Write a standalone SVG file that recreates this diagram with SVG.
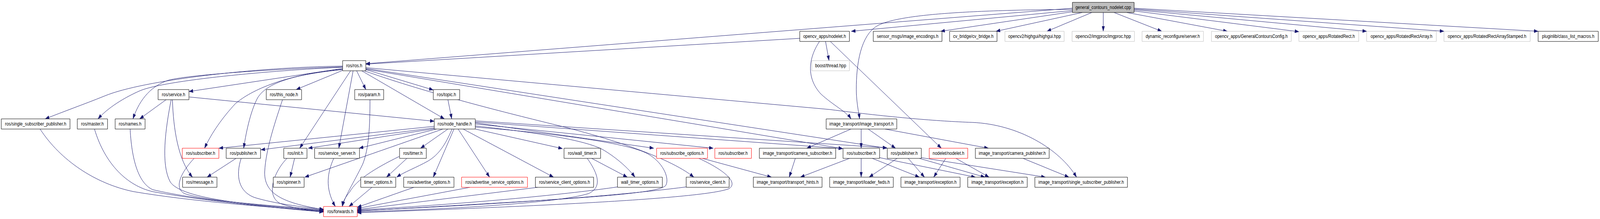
<svg xmlns="http://www.w3.org/2000/svg" width="5029" height="560" viewBox="0 0 5029 560">
<style>
.nd rect{fill:#fff;stroke:#000;stroke-width:1;vector-effect:non-scaling-stroke}
.gr rect{stroke:#bfbfbf}
.rd rect{stroke:#ff0000}
.root rect{fill:#bfbfbf}
.nd text{font-family:"Liberation Sans",Arial,Helvetica,sans-serif;font-size:13px;text-anchor:middle;fill:#000}
#edges path{fill:none;stroke:#191970;stroke-width:1;vector-effect:non-scaling-stroke;marker-end:url(#a)}
</style>
<defs>
<marker id="a" markerWidth="14" markerHeight="9" refX="13" refY="4.5" orient="auto" markerUnits="userSpaceOnUse"><path d="M0,0L13,4.5L0,9z" fill="#191970" stroke="#191970" stroke-width="0.5"/></marker>
</defs>
<rect width="5029" height="560" fill="#fff"/>
<g id="diagram" transform="scale(0.8144,1)">
<g id="edges">
<path d="M3371,27L2676,80"/>
<path d="M3371,21L1150,163"/>
<path d="M2514,98L1150,164"/>
<path d="M3371,24C3000,26 2800,40 2750,70C2700,100 2690,180 2692,240C2694,270 2700,290 2702,304"/>
<path d="M3371,30L2957,80"/>
<path d="M3402,32L3131,80"/>
<path d="M3432,32L3291,80"/>
<path d="M3468,32L3468,80"/>
<path d="M3502,32L3652,80"/>
<path d="M3542,32L3858,80"/>
<path d="M3565,28L4083,81"/>
<path d="M3565,25L4296,80"/>
<path d="M3565,23L4539,80"/>
<path d="M3565,21L4835,80"/>
<path d="M2595,106L2606,155"/>
<path d="M2576,106C2540,150 2535,200 2580,240C2620,270 2660,285 2675,304"/>
<path d="M2610,106L2959,379"/>
<path d="M1077,169C800,172 450,205 330,245C260,268 200,285 142,304"/>
<path d="M1077,172C850,180 520,205 440,232C390,250 340,275 308,304"/>
<path d="M1077,171C900,175 600,190 530,205C480,218 440,250 418,304"/>
<path d="M1077,175L594,234"/>
<path d="M1077,177C900,190 790,230 740,265C700,300 665,340 643,379"/>
<path d="M1077,178C930,190 840,210 810,250C790,280 775,330 766,379"/>
<path d="M1077,180L931,229"/>
<path d="M1102,181L942,379"/>
<path d="M1110,181L1065,379"/>
<path d="M1121,181L1150,229"/>
<path d="M1137,181L1397,304"/>
<path d="M1150,178L1362,230"/>
<path d="M1150,173L2608,280C2800,300 2950,310 3056,313C3200,318 3330,380 3384,453"/>
<path d="M1150,175L2788,379"/>
<path d="M1150,177L2649,380"/>
<path d="M1145,181C1350,240 1600,290 1750,320C1900,350 2100,400 2181,453"/>
<path d="M522,255L439,304"/>
<path d="M538,255C520,330 505,420 535,465C570,510 800,525 1017,538"/>
<path d="M542,255C545,330 560,410 605,453"/>
<path d="M595,248L1365,310"/>
<path d="M888,255C870,300 835,380 832,440C830,500 900,520 1017,536"/>
<path d="M1163,255C1163,320 1160,380 1140,420C1110,470 1085,500 1076,528"/>
<path d="M1408,255L1420,304"/>
<path d="M126,330C190,410 300,470 420,490C600,515 850,530 1017,540"/>
<path d="M297,330C330,420 400,475 480,490C650,515 880,532 1017,541"/>
<path d="M409,330C415,420 440,470 480,485C620,512 880,533 1017,542"/>
<path d="M610,405C570,440 545,480 580,495C650,515 850,525 1017,537"/>
<path d="M742,405L651,453"/>
<path d="M758,405C740,450 750,490 800,505C860,520 950,530 1017,535"/>
<path d="M1365,323L688,379"/>
<path d="M1365,327L820,383"/>
<path d="M1367,329L969,379"/>
<path d="M1372,330L1129,379"/>
<path d="M1392,330L958,453"/>
<path d="M1408,330L1322,379"/>
<path d="M1421,330C1400,370 1380,395 1345,412C1310,428 1270,440 1247,453"/>
<path d="M1427,330L1362,453"/>
<path d="M1440,330L1539,453"/>
<path d="M1456,330L1740,453"/>
<path d="M1494,330L1768,380"/>
<path d="M1494,314L2055,379"/>
<path d="M1494,317L2242,379"/>
<path d="M1494,312L2649,380"/>
<path d="M1494,309L2788,378"/>
<path d="M1494,322C1700,340 1850,360 1900,385C1940,405 1975,430 1996,453"/>
<path d="M1494,325C1800,345 1990,370 2040,395C2090,420 2105,460 2092,475C2060,500 1700,512 1123,540"/>
<path d="M926,405L912,453"/>
<path d="M902,405C860,440 835,500 880,520C930,535 980,538 1017,540"/>
<path d="M1049,405C1030,440 1020,480 1054,528"/>
<path d="M1255,400C1180,430 1120,460 1100,490C1085,505 1078,515 1076,528"/>
<path d="M1279,405L1215,453"/>
<path d="M1169,479L1097,528"/>
<path d="M1301,479L1123,530"/>
<path d="M1477,479L1123,533"/>
<path d="M1690,479L1123,536"/>
<path d="M1860,405L1972,453"/>
<path d="M1846,405C1885,450 1890,480 1850,495C1750,520 1400,535 1123,542"/>
<path d="M1941,478C1800,495 1500,520 1123,537"/>
<path d="M2157,478C1900,505 1500,525 1123,539"/>
<path d="M2197,405C2290,440 2320,470 2290,483C2200,510 1600,530 1123,544"/>
<path d="M2208,405L2425,453"/>
<path d="M2500,405L2481,453"/>
<path d="M2675,330L2536,379"/>
<path d="M2707,330L2707,379"/>
<path d="M2729,330L2815,379"/>
<path d="M2782,330L3107,379"/>
<path d="M2670,405L2516,453"/>
<path d="M2707,405L2707,453"/>
<path d="M2742,405L2890,453"/>
<path d="M2764,403L3066,453"/>
<path d="M2820,405L2732,453"/>
<path d="M2855,405L2906,453"/>
<path d="M2890,405L3096,453"/>
<path d="M2895,403L3286,453"/>
<path d="M2973,405L2935,453"/>
<path d="M3005,405L3109,453"/>
<path d="M3216,405L3360,453"/>
</g>
<g id="n0" class="nd root"><rect x="3371" y="6" width="194" height="26"/><text x="3468" y="23">general_contours_nodelet.cpp</text></g>
<g id="n1" class="nd"><rect x="2514" y="80" width="156" height="26"/><text x="2592" y="97">opencv_apps/nodelet.h</text></g>
<g id="n2" class="nd"><rect x="2745" y="80" width="216" height="26"/><text x="2853" y="97">sensor_msgs/image_encodings.h</text></g>
<g id="n3" class="nd"><rect x="2985" y="80" width="149" height="26"/><text x="3059.5" y="97">cv_bridge/cv_bridge.h</text></g>
<g id="n4" class="nd gr"><rect x="3159" y="80" width="186" height="26"/><text x="3252" y="97">opencv2/highgui/highgui.hpp</text></g>
<g id="n5" class="nd gr"><rect x="3370" y="80" width="196" height="26"/><text x="3468" y="97">opencv2/imgproc/imgproc.hpp</text></g>
<g id="n6" class="nd gr"><rect x="3590" y="80" width="193" height="26"/><text x="3686.5" y="97">dynamic_reconfigure/server.h</text></g>
<g id="n7" class="nd gr"><rect x="3808" y="80" width="251" height="26"/><text x="3933.5" y="97">opencv_apps/GeneralContoursConfig.h</text></g>
<g id="n8" class="nd gr"><rect x="4083" y="80" width="188" height="26"/><text x="4177" y="97">opencv_apps/RotatedRect.h</text></g>
<g id="n9" class="nd gr"><rect x="4296" y="80" width="219" height="26"/><text x="4405.5" y="97">opencv_apps/RotatedRectArray.h</text></g>
<g id="n10" class="nd gr"><rect x="4539" y="80" width="271" height="26"/><text x="4674.5" y="97">opencv_apps/RotatedRectArrayStamped.h</text></g>
<g id="n11" class="nd"><rect x="4835" y="80" width="189" height="26"/><text x="4929.5" y="97">pluginlib/class_list_macros.h</text></g>
<g id="n12" class="nd"><rect x="1077" y="155" width="73" height="26"/><text x="1113.5" y="172">ros/ros.h</text></g>
<g id="n13" class="nd gr"><rect x="2552" y="155" width="118" height="26"/><text x="2611" y="172">boost/thread.hpp</text></g>
<g id="n14" class="nd"><rect x="497" y="229" width="97" height="26"/><text x="545.5" y="246">ros/service.h</text></g>
<g id="n15" class="nd"><rect x="837" y="229" width="111" height="26"/><text x="892.5" y="246">ros/this_node.h</text></g>
<g id="n16" class="nd"><rect x="1115" y="229" width="91" height="26"/><text x="1160.5" y="246">ros/param.h</text></g>
<g id="n17" class="nd"><rect x="1362" y="229" width="83" height="26"/><text x="1403.5" y="246">ros/topic.h</text></g>
<g id="n18" class="nd"><rect x="4" y="304" width="216" height="26"/><text x="112" y="321">ros/single_subscriber_publisher.h</text></g>
<g id="n19" class="nd"><rect x="243" y="304" width="95" height="26"/><text x="290.5" y="321">ros/master.h</text></g>
<g id="n20" class="nd"><rect x="362" y="304" width="94" height="26"/><text x="409" y="321">ros/names.h</text></g>
<g id="n21" class="nd"><rect x="1365" y="304" width="129" height="26"/><text x="1429.5" y="321">ros/node_handle.h</text></g>
<g id="n22" class="nd"><rect x="2597" y="304" width="222" height="26"/><text x="2708" y="321">image_transport/image_transport.h</text></g>
<g id="n23" class="nd rd"><rect x="573" y="379" width="115" height="26"/><text x="630.5" y="396">ros/subscriber.h</text></g>
<g id="n24" class="nd"><rect x="711" y="379" width="108" height="26"/><text x="765" y="396">ros/publisher.h</text></g>
<g id="n25" class="nd"><rect x="892" y="379" width="73" height="26"/><text x="928.5" y="396">ros/init.h</text></g>
<g id="n26" class="nd"><rect x="989" y="379" width="141" height="26"/><text x="1059.5" y="396">ros/service_server.h</text></g>
<g id="n27" class="nd"><rect x="1256" y="379" width="84" height="26"/><text x="1298" y="396">ros/timer.h</text></g>
<g id="n28" class="nd"><rect x="1773" y="379" width="115" height="26"/><text x="1830.5" y="396">ros/wall_timer.h</text></g>
<g id="n29" class="nd rd"><rect x="2064" y="379" width="160" height="26"/><text x="2144" y="396">ros/subscribe_options.h</text></g>
<g id="n30" class="nd rd"><rect x="2247" y="379" width="115" height="26"/><text x="2304.5" y="396">ros/subscriber.h</text></g>
<g id="n31" class="nd"><rect x="2387" y="379" width="240" height="26"/><text x="2507" y="396">image_transport/camera_subscriber.h</text></g>
<g id="n32" class="nd"><rect x="2650" y="379" width="115" height="26"/><text x="2707.5" y="396">ros/subscriber.h</text></g>
<g id="n33" class="nd"><rect x="2789" y="379" width="107" height="26"/><text x="2842.5" y="396">ros/publisher.h</text></g>
<g id="n34" class="nd rd"><rect x="2921" y="379" width="121" height="26"/><text x="2981.5" y="396">nodelet/nodelet.h</text></g>
<g id="n35" class="nd"><rect x="3066" y="379" width="232" height="26"/><text x="3182" y="396">image_transport/camera_publisher.h</text></g>
<g id="n36" class="nd"><rect x="574" y="453" width="108" height="26"/><text x="628" y="470">ros/message.h</text></g>
<g id="n37" class="nd"><rect x="859" y="453" width="97" height="26"/><text x="907.5" y="470">ros/spinner.h</text></g>
<g id="n38" class="nd"><rect x="1134" y="453" width="110" height="26"/><text x="1189" y="470">timer_options.h</text></g>
<g id="n39" class="nd"><rect x="1269" y="453" width="158" height="26"/><text x="1348" y="470">ros/advertise_options.h</text></g>
<g id="n40" class="nd rd"><rect x="1451" y="453" width="207" height="26"/><text x="1554.5" y="470">ros/advertise_service_options.h</text></g>
<g id="n41" class="nd"><rect x="1683" y="453" width="183" height="26"/><text x="1774.5" y="470">ros/service_client_options.h</text></g>
<g id="n42" class="nd"><rect x="1941" y="453" width="141" height="26"/><text x="2011.5" y="470">wall_timer_options.h</text></g>
<g id="n43" class="nd"><rect x="2157" y="453" width="135" height="26"/><text x="2224.5" y="470">ros/service_client.h</text></g>
<g id="n44" class="nd"><rect x="2368" y="453" width="216" height="26"/><text x="2476" y="470">image_transport/transport_hints.h</text></g>
<g id="n45" class="nd"><rect x="2608" y="453" width="200" height="26"/><text x="2708" y="470">image_transport/loader_fwds.h</text></g>
<g id="n46" class="nd"><rect x="2832" y="453" width="186" height="26"/><text x="2925" y="470">image_transport/exception.h</text></g>
<g id="n47" class="nd"><rect x="3042" y="453" width="187" height="26"/><text x="3135.5" y="470">image_transport/exception.h</text></g>
<g id="n48" class="nd"><rect x="3253" y="453" width="291" height="26"/><text x="3398.5" y="470">image_transport/single_subscriber_publisher.h</text></g>
<g id="n49" class="nd rd"><rect x="1017" y="528" width="106" height="26"/><text x="1070" y="545">ros/forwards.h</text></g>
</g>
</svg>
